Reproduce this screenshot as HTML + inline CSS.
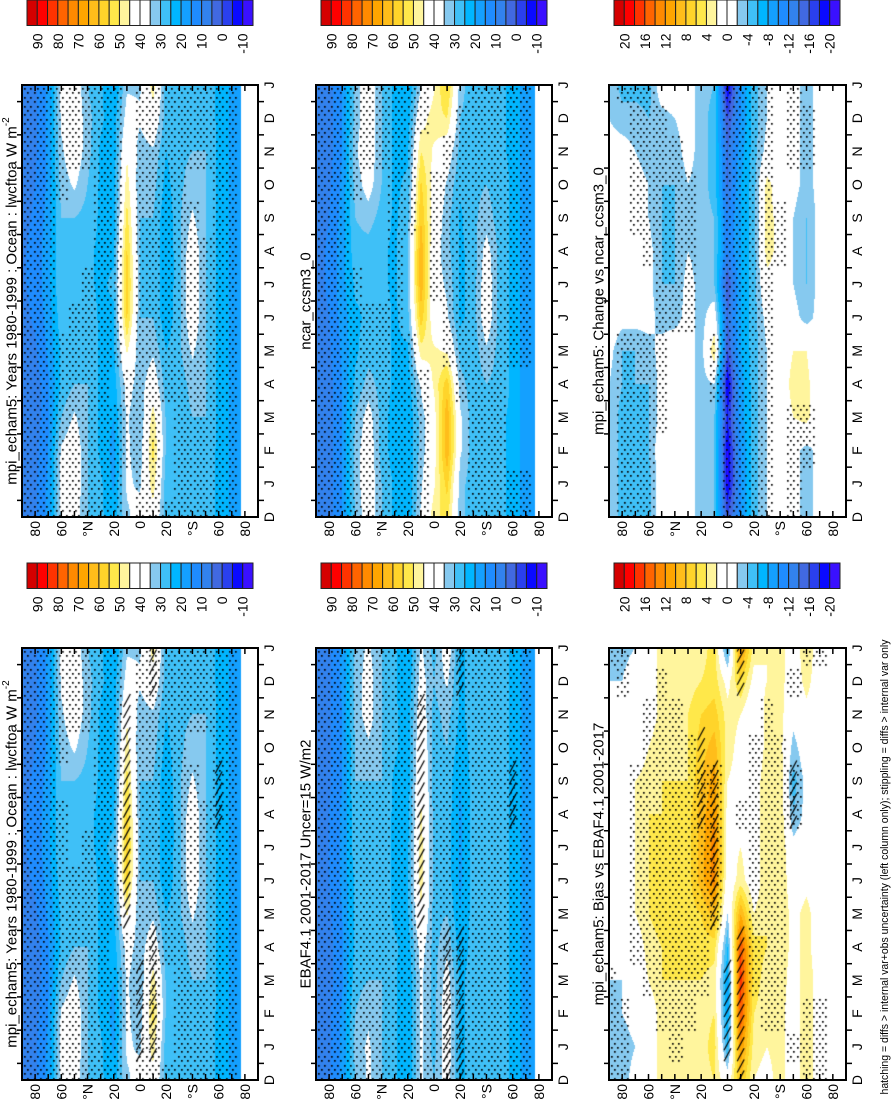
<!DOCTYPE html>
<html>
<head>
<meta charset="utf-8">
<style>
  html,body{margin:0;padding:0;background:#fff;}
  #wrap{position:relative;width:895px;height:1100px;overflow:hidden;background:#fff;}
  #cv,#sv{position:absolute;left:0;top:0;}
  text{font-family:"Liberation Sans",Arial,sans-serif;fill:#000;}
</style>
</head>
<body>
<div id="wrap">
<canvas id="cv" width="895" height="1100"></canvas>
<svg id="sv" width="895" height="1100" xmlns="http://www.w3.org/2000/svg"></svg>
</div>
<script>
// ---------- data ----------
const monthLabels = ['D','J','F','M','A','M','J','J','A','S','O','N','D','J'];
const latTickValues = [80,60,40,20,0,-20,-40,-60,-80];
const latTickLabels = ['80','60','°N','20','0','20','°S','60','80'];
const absBarLabels = ['90','80','70','60','50','40','30','20','10','0','-10'];
const diffBarLabels = ['20','16','12','8','4','0','-4','-8','-12','-16','-20'];

// rows: D(bottom),J,F,M,A,M,J,J,A,S,O,N,D,J(top); cols: 90N,80N,...,70S
const valsMpi = [
[6,9,16,36,38,30,26,22,34,38,42,27,27,30,28,24,19],
[6,9,16,38,40,30,26,19,36,34,48,27,27,30,28,24,19],
[6,8,15,36,40,30,24,18,36,32,52,29,27,30,28,24,19],
[5,7,14,30,36,30,24,20,36,30,48,29,27,30,30,24,19],
[5,7,14,26,30,30,24,22,38,32,40,27,27,32,30,24,19],
[6,9,16,26,28,30,24,24,46,30,34,25,29,36,30,24,19],
[8,11,17,28,25,28,24,24,56,30,30,21,29,40,30,24,19],
[9,12,18,30,25,26,24,26,58,30,30,20,29,40,30,24,19],
[9,12,18,30,28,26,24,24,56,30,30,20,29,40,30,24,19],
[8,11,17,30,30,28,24,22,52,30,30,21,29,36,30,24,19],
[7,10,16,32,36,30,24,22,48,30,32,23,29,32,30,24,19],
[6,9,16,34,40,32,24,22,44,32,34,25,29,30,30,24,19],
[6,9,16,36,40,32,26,22,38,36,42,27,27,30,28,24,19],
[6,9,16,38,40,30,26,19,34,34,48,27,27,30,28,24,19]
];
const valsNcar = [
[5,8,15,30,40,30,24,20,36,48,52,32,27,28,26,24,17],
[5,8,15,32,40,30,24,20,34,44,57,32,27,28,26,24,17],
[5,8,15,32,40,28,22,20,32,42,64,36,27,28,26,24,17],
[5,8,15,30,38,28,22,20,32,42,64,36,27,28,26,24,17],
[5,8,15,26,32,28,24,22,36,46,58,32,27,30,28,24,17],
[6,9,16,24,28,28,24,24,48,46,44,28,27,34,28,24,17],
[7,10,17,24,26,28,24,28,58,40,36,24,27,40,28,24,17],
[8,11,18,26,26,26,24,30,64,38,34,24,27,40,28,24,17],
[8,11,18,28,28,26,24,30,64,38,32,24,27,38,28,24,17],
[7,10,17,30,32,28,24,28,60,40,32,24,29,32,28,24,17],
[6,9,16,32,38,30,24,26,56,42,34,26,29,30,28,24,17],
[5,8,15,34,40,30,24,24,50,44,40,28,29,28,26,24,17],
[5,8,15,32,40,30,24,22,42,48,50,30,27,28,26,24,17],
[5,8,15,32,40,30,24,20,34,44,57,32,27,28,26,24,17]
];
const valsEbaf = [
[6,9,16,30,36,30,26,20,36,30,38,24,27,30,28,24,18],
[6,9,16,32,36,30,26,20,36,28,40,24,27,30,28,24,18],
[6,9,16,30,34,30,26,20,36,28,40,24,27,30,28,24,18],
[5,8,14,28,30,30,26,20,36,28,38,24,27,30,28,24,18],
[5,8,14,26,28,30,26,22,38,28,34,22,27,30,28,24,18],
[6,9,15,26,28,28,24,24,44,28,30,20,27,30,28,24,18],
[7,10,16,26,28,28,24,24,48,28,28,19,27,30,28,24,18],
[7,10,16,28,28,28,24,24,48,28,28,19,27,30,28,24,18],
[7,10,16,28,28,28,24,22,46,28,28,19,27,30,28,24,18],
[6,9,15,30,30,30,24,22,44,28,28,20,27,30,28,24,18],
[6,9,15,30,34,30,26,22,42,28,30,22,27,30,28,24,18],
[6,9,15,32,38,30,26,22,40,28,32,24,27,30,28,24,18],
[6,9,16,32,38,30,26,20,38,30,36,24,27,30,28,24,18],
[6,9,16,32,36,30,26,20,36,28,40,24,27,30,28,24,18]
];
const valsChange = [
[-2,-5,-5,-5,0,0,-1,-3,-4,-16,-10,-5,-2,0,-1,-3,-1],
[-2,-5,-5,-5,0,0,-1,-3,-4,-20,-10,-5,-2,0,-1,-3,-1],
[-2,-5,-5,-4,0,0,-1,-3,-4,-20,-10,-5,-2,0,-1,-3,-1],
[-2,-5,-5,-4,-1,0,-1,-3,-4,-18,-9,-5,-2,0,2,3,-1],
[-2,-4,-4,-4,-1,0,-1,-3,-2,-20,-9,-5,-2,0,3,3,-1],
[-1,-4,-4,-3,-1,0,-1,-3,4,-16,-8,-5,-2,0,2,2,-1],
[0,-1,-1,-1,-3,-3,-1,-3,0,-14,-8,-5,-1,0,-1,-3,-1],
[0,0,0,-1,-4,-4,-1,-3,-4,-16,-8,-5,1,1,-2,-4,-1],
[0,0,0,-1,-4,-4,-2,-3,-4,-12,-8,-5,3,1,-2,-4,-1],
[0,0,-1,-2,-4,-4,-2,-3,-4,-12,-8,-5,3,1,-2,-4,-1],
[0,0,-1,-2,-4,-4,-2,-3,-5,-14,-8,-5,3,0,-1,-3,-1],
[-1,-1,-2,-3,-4,-3,-1,-3,-5,-14,-9,-5,-1,0,-1,-3,-1],
[-2,-3,-3,-4,-3,-2,-1,-3,-5,-16,-10,-5,-2,0,-1,-3,-1],
[-2,-5,-5,-5,0,0,-1,-3,-4,-20,-10,-5,-2,0,-1,-3,-1]
];
const valsBias = [
[-2,-3,-1,0,3,4,3,3,4,0,8,2,1,3,0,4,0],
[-3,-3,-2,0,3,4,4,3,5,-6,12,3,2,3,0,4,0],
[-3,-2,-1,0,3,4,4,3,4,-8,16,4,3,3,0,4,0],
[-2,-2,0,2,4,4,4,4,3,-8,17,5,3,4,0,4,0],
[-1,-1,0,3,4,5,5,5,5,-6,16,5,4,4,1,3,0],
[0,0,2,4,5,6,5,6,9,-2,10,2,4,4,1,3,0],
[0,0,2,4,5,6,5,9,13,0,3,0,4,4,0,1,0],
[0,0,2,4,5,5,5,9,13,1,2,0,4,4,-1,0,0],
[0,0,2,4,4,5,5,9,12,1,1,0,4,4,-4,-1,0],
[-1,0,2,3,4,4,4,8,11,2,1,0,4,4,-5,-1,0],
[-1,-1,0,2,4,4,4,7,9,3,1,-1,3,3,-3,0,0],
[-2,-1,0,0,3,4,4,6,7,3,2,-1,3,3,-1,1,0],
[-2,-2,0,0,3,4,3,4,5,1,6,1,2,3,0,3,0],
[-3,-3,-2,0,3,4,4,3,5,-6,12,3,2,3,0,4,0]
];

const stipMpi = ["11111111011111111","11111111011011111","11111111111011111","11111111111011111","11111110111111111","11111111011111111","11101111011111111","11100111011111111","11100011011111111","11100011011111011","11110011011110011","11111111011111111","11111111011111111","11111111011111111"];
const stipMpi2 = ["11111111011111111","11111111011011111","11111111111011111","11111111111011111","11111110111111111","11111111011111111","11111111011111111","11110111011111111","11110011011111111","11100011011111011","11110011011110011","11111111011111111","11111111011111111","11111111011111111"];
const stipNcar = ["11111111100011111","11111111100011111","11111111100011100","11111111100011100","11111111100111100","11111111001111111","11111110001111111","11110010011111111","11100010011111111","11100011011111111","11110011011111111","11111111001111111","11111111100111111","11111111100011111"];
const stipEbaf = ["11111111111111111","11111111111111111","11111111111111111","11111111111111111","11111111111111111","11111111011111111","11111111011111111","11111111011111111","11111111011111111","11111111011111111","11111111011111111","11111111111111111","11111111111111111","11111111111111111"];
const stipChange = ["01110000011110100","01110000011110100","01110000011110110","01111000011110110","01111000111110000","01111000111110000","00001110011110000","00001110011110000","00011110011111000","00111110011111000","00111110011110000","00111100011110110","00111000011110110","01110000011110100"];
const stipBias = ["11000000000000011","11000100000000111","11001110000011011","10011111000111000","00111111000111000","00111111100111000","00111111100111000","00111111100111000","00111111101111100","00111111100111100","00011110000111000","00011100000010000","01001000000000100","11000000000000011"];

const hatchMpi = ["00000000000000000","00000000011000000","00000000011000000","00000000011000000","00000000001000000","00000000100000000","00000000100000000","00000000100000000","00000000100000010","00000000100000010","00000000100000000","00000000100000000","00000000001000000","00000000001000000"];
const hatchEbaf = ["00000000001100000","00000000001100000","00000000001100000","00000000001100000","00000000001100000","00000000100000000","00000000100000000","00000000100000000","00000000100000010","00000000100000010","00000000100000000","00000000100000000","00000000000100000","00000000000100000"];
const hatchBias = ["00000000001000000","00000000011000000","00000000011000000","00000000011000000","00000000001000000","00000000100000000","00000000100000000","00000000100000000","00000001100000100","00000001100000100","00000001000000000","00000000000000000","00000000001000000","00000000001000000"];

const palette = ['#d40000','#ff0000','#ff3300','#ff6400','#ff8a00','#ffa500','#ffbd1a','#ffd42a','#ffe84a','#fff59d','#ffffff','#ffffff','#86c9ef','#3fc0f7','#00b6ff','#14a0ff','#1f8cff','#3282ee','#4169e1','#2a40ee','#0a0aff','#3a10ff'];

// ---------- layout ----------
const PH = 432;
const panels = [
 {name:'mpi-climatology-panel', x:22, y:85, w:236, data:valsMpi, kind:'abs', stip:stipMpi, hatch:null, title:'mpi_echam5: Years 1980-1999 : Ocean : lwcftoa W m', sup:true},
 {name:'ncar-climatology-panel', x:316, y:85, w:236, data:valsNcar, kind:'abs', stip:stipNcar, hatch:null, title:'ncar_ccsm3_0'},
 {name:'change-vs-ncar-panel', x:609, y:85, w:237, data:valsChange, kind:'diff', stip:stipChange, hatch:null, title:'mpi_echam5: Change vs ncar_ccsm3_0'},
 {name:'mpi-climatology-hatched-panel', x:22, y:648, w:236, data:valsMpi, kind:'abs', stip:stipMpi2, hatch:hatchMpi, title:'mpi_echam5: Years 1980-1999 : Ocean : lwcftoa W m', sup:true},
 {name:'ebaf-observation-panel', x:316, y:648, w:236, data:valsEbaf, kind:'abs', stip:stipEbaf, hatch:hatchEbaf, title:'EBAF4.1 2001-2017 Uncer=15 W/m2'},
 {name:'bias-vs-ebaf-panel', x:609, y:648, w:237, data:valsBias, kind:'diff', stip:stipBias, hatch:hatchBias, title:'mpi_echam5: Bias vs EBAF4.1 2001-2017'}
];

const cv = document.getElementById('cv');
const ctx = cv.getContext('2d');
const svg = document.getElementById('sv');
const NS = 'http://www.w3.org/2000/svg';

function hexToRgb(h){return [parseInt(h.slice(1,3),16),parseInt(h.slice(3,5),16),parseInt(h.slice(5,7),16)];}
const palRgb = palette.map(hexToRgb);

function colorIndex(v, kind){
  let c;
  if(kind==='abs'){ c = v>=90 ? 0 : 1+Math.floor((90-v)/5); }
  else { c = v>=20 ? 0 : 1+Math.floor((20-v)/2); }
  return Math.max(0, Math.min(21, c));
}
function valueAt(data, lat, r){
  if(lat < -77) return null;
  let jf = (90-lat)/10; if(jf>16) jf=16; if(jf<0) jf=0;
  const j0=Math.floor(jf), j1=Math.min(j0+1,16), t=jf-j0;
  if(r<0) r=0; if(r>13) r=13;
  const r0=Math.floor(r), r1=Math.min(r0+1,13), s=r-r0;
  const a=data[r0][j0]*(1-t)+data[r0][j1]*t;
  const b=data[r1][j0]*(1-t)+data[r1][j1]*t;
  return a*(1-s)+b*s;
}
function latToX(p, lat){ return p.x + (90-lat)/180*p.w; }
function rowToY(p, r){ return p.y + PH - r*PH/13; }

function mk(tag, attrs, parent){
  const el=document.createElementNS(NS,tag);
  for(const k in attrs) el.setAttribute(k, attrs[k]);
  (parent||svg).appendChild(el);
  return el;
}
function vtext(x, y, str, size, anchor, parent){
  const t = mk('text', {transform:'translate('+x+','+y+') rotate(-90)', 'font-size':size, 'text-anchor':anchor, 'dominant-baseline':'central'}, parent);
  t.textContent = str;
  return t;
}

// ---------- draw panels ----------
panels.forEach(p=>{
  const img = ctx.createImageData(p.w, PH);
  for(let py=0; py<PH; py++){
    const r = (PH-(py+0.5))/PH*13;
    for(let px=0; px<p.w; px++){
      const lat = 90-(px+0.5)/p.w*180;
      const v = valueAt(p.data, lat, r);
      const k = (py*p.w+px)*4;
      let rgb=[255,255,255];
      if(v!==null) rgb = palRgb[colorIndex(v,p.kind)];
      img.data[k]=rgb[0]; img.data[k+1]=rgb[1]; img.data[k+2]=rgb[2]; img.data[k+3]=255;
    }
  }
  ctx.putImageData(img, p.x, p.y);

  // stippling
  ctx.fillStyle='#000';
  let row=0;
  for(let yy=3; yy<PH-1; yy+=4.4, row++){
    const r = (PH-yy)/PH*13;
    const ri = Math.round(r);
    for(let xx=2+(row%2)*3.2; xx<p.w-1; xx+=6.4){
      const lat = 90-xx/p.w*180;
      const ji = Math.round((90-lat)/10);
      if(ji>16 || lat<-77) continue;
      if(p.stip[ri][ji]==='1') ctx.fillRect(Math.round(p.x+xx), Math.round(p.y+yy), 1.7, 1.7);
    }
  }

  // hatching
  if(p.hatch){
    ctx.save();
    ctx.beginPath(); ctx.rect(p.x, p.y, p.w, PH); ctx.clip();
    ctx.strokeStyle='#000'; ctx.lineWidth=1.2;
    for(let ri=0; ri<14; ri++){
      for(let ji=0; ji<17; ji++){
        if(p.hatch[ri][ji]!=='1') continue;
        const xc = latToX(p, 90-ji*10);
        const yc = rowToY(p, ri);
        for(let yy=yc-14; yy<=yc+14; yy+=11){
          ctx.beginPath();
          ctx.moveTo(xc-3.5, yy+6.5);
          ctx.lineTo(xc+3.5, yy-6.5);
          ctx.stroke();
        }
      }
    }
    ctx.restore();
  }

  // axes group
  const g = mk('g', {});
  
  

  const box = mk('rect', {x:p.x, y:p.y, width:p.w, height:PH, fill:'none', stroke:'#000', 'stroke-width':2}, g);
  
  

  for(let lat=-80; lat<=80; lat+=10){
    const x = latToX(p, lat);
    const tb = mk('line', {x1:x, x2:x, y1:p.y+PH, y2:p.y+PH-6, stroke:'#000', 'stroke-width':1.5}, g);
    
    
    const tt = mk('line', {x1:x, x2:x, y1:p.y, y2:p.y+6, stroke:'#000', 'stroke-width':1.5}, g);
    
    
  }
  for(let r=0.5; r<13; r+=1){
    const y = rowToY(p, r);
    const tr = mk('line', {x1:p.x+p.w, x2:p.x+p.w+6, y1:y, y2:y, stroke:'#000', 'stroke-width':1.5}, g);
    
    
    const tl = mk('line', {x1:p.x-5, x2:p.x, y1:y, y2:y, stroke:'#000', 'stroke-width':1.5}, g);
    
    
  }
  latTickValues.forEach((lat,i)=>{
    const t = vtext(latToX(p,lat), p.y+PH+4, latTickLabels[i], 14, 'end', g);
    
    
  });
  monthLabels.forEach((m,i)=>{
    const t = vtext(p.x+p.w+11, rowToY(p,i), m, 14, 'middle', g);
    
    
  });
  const title = vtext(p.x-10, p.y+PH/2, p.title, 15, 'middle', g);
  
  
  if(p.sup){
    const ts = document.createElementNS(NS,'tspan');
    ts.setAttribute('font-size', 10);
    ts.setAttribute('dy', -6);
    ts.textContent = '-2';
    title.appendChild(ts);
  }

  // colorbar
  const cbx = p.x+5, cby = p.y-85, cbw = 226, cbh = 25.5, cw = cbw/22;
  const cg = mk('g', {}, svg);
  
  
  palette.forEach((c,i)=>{
    const cell = mk('rect', {x:cbx+i*cw, y:cby, width:cw, height:cbh, fill:c, stroke:'#222', 'stroke-width':1}, cg);
    
    
  });
  const labs = p.kind==='abs' ? absBarLabels : diffBarLabels;
  labs.forEach((l,i)=>{
    const t = vtext(cbx+(2*i+1)*cw, cby+cbh+8, l, 14, 'end', cg);
    
    
  });
});

const foot = vtext(885, 867, 'hatching = diffs > internal var+obs uncertainty (left column only); stippling = diffs > internal var only', 11, 'middle');
foot.setAttribute('textLength', '455');
foot.setAttribute('lengthAdjust', 'spacingAndGlyphs');


</script>
</body>
</html>
